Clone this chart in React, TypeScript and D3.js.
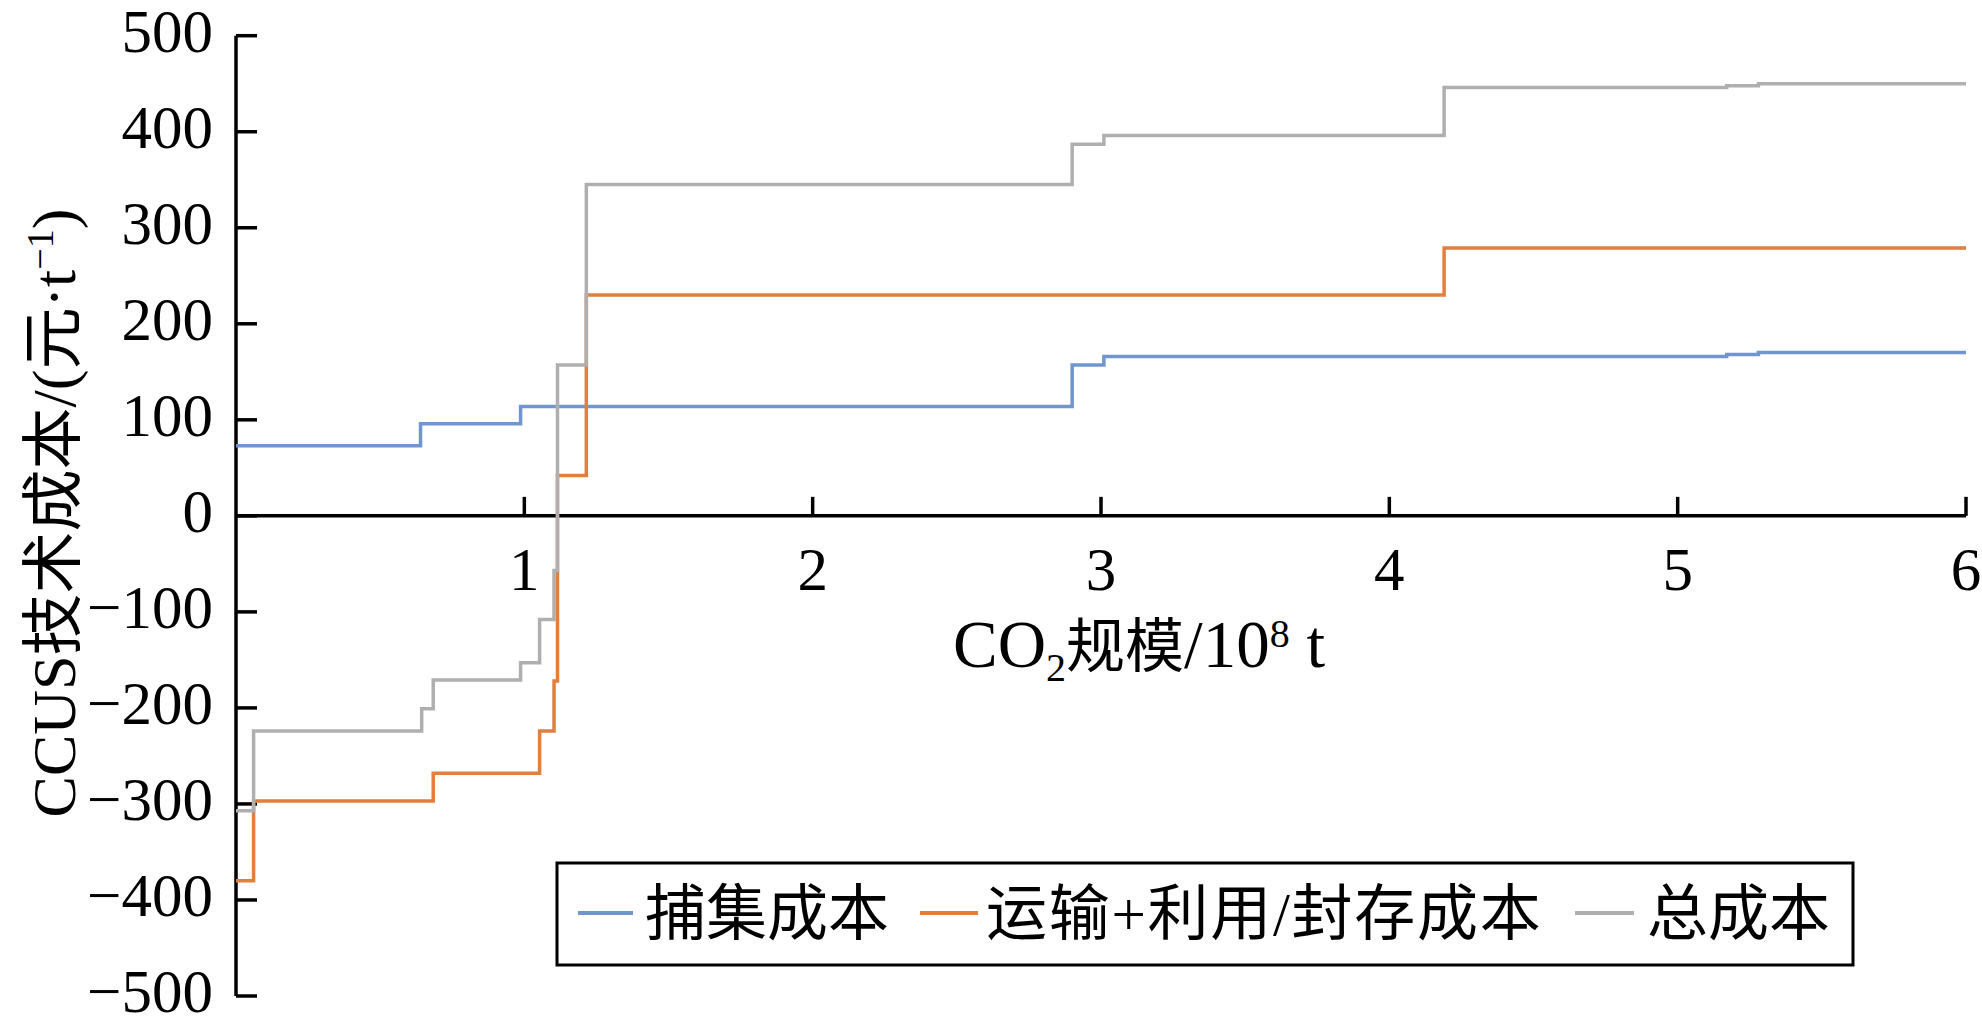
import React from "react";
import * as d3 from "d3";

// ---- Data ----
const captureX = [0, 0.64, 0.987, 2.9, 3.01, 5.17, 5.28, 6];
const captureY = [73, 96, 114, 157, 166, 168, 170, 170];

const transportX = [0, 0.061, 0.684, 1.053, 1.103, 1.115, 1.215, 4.19, 6];
const transportY = [-380, -297, -268, -224, -172, 42, 230, 279, 279];

const totalX = [0, 0.061, 0.644, 0.684, 0.987, 1.053, 1.103, 1.115, 1.215, 2.9, 3.01, 4.19, 5.17, 5.28, 6];
const totalY = [-307, -224, -201, -171, -153, -108, -57, 157, 345, 387, 396, 446, 448, 450, 450];

const seriesNames = ["捕集成本", "运输+利用/封存成本", "总成本"];
const seriesColors = ["#7195CE", "#E07F3E", "#AFAFAF"];

const xTicks = [1, 2, 3, 4, 5, 6];
const yTicks = [-500, -400, -300, -200, -100, 0, 100, 200, 300, 400, 500];

const FONT = "'Liberation Serif','Times New Roman','Noto Sans CJK SC',serif";

export default function App() {
  const W = 1982;
  const H = 1035;
  const x = d3.scaleLinear().domain([0, 6]).range([236, 1966]);
  const y = d3.scaleLinear().domain([-500, 500]).range([996, 35.7]);

  const line = d3
    .line<[number, number]>()
    .x((d) => x(d[0]))
    .y((d) => y(d[1]))
    .curve(d3.curveStepAfter);

  const series = [
    { xs: captureX, ys: captureY },
    { xs: transportX, ys: transportY },
    { xs: totalX, ys: totalY },
  ];

  const fmt = (v: number) => (v < 0 ? "\u2212" + Math.abs(v) : String(v));

  const legendItems = [
    { lx1: 578, lx2: 633, tx: 645, ls: 0 },
    { lx1: 920, lx2: 978, tx: 986, ls: 1.7 },
    { lx1: 1575, lx2: 1634, tx: 1647, ls: 0 },
  ];

  return (
    <svg
      width={W}
      height={H}
      style={{ position: "absolute", left: 0, top: 0, background: "#fff" }}
      fontFamily={FONT}
    >
      <rect x={0} y={0} width={W} height={H} fill="#fff" />
      {/* Axes */}
      <line x1={x(0)} x2={x(6)} y1={y(0)} y2={y(0)} stroke="#000" strokeWidth={3.5} />
      <line x1={x(0)} x2={x(0)} y1={y(-500)} y2={y(500)} stroke="#000" strokeWidth={3.5} />
      {yTicks.map((t) => (
        <g key={"yt" + t}>
          <line x1={x(0)} x2={x(0) + 21} y1={y(t)} y2={y(t)} stroke="#000" strokeWidth={3.5} />
          <text x={213} y={y(t) + 16} textAnchor="end" fontSize={61} fill="#000">
            {fmt(t)}
          </text>
        </g>
      ))}
      {xTicks.map((t) => (
        <g key={"xt" + t}>
          <line x1={x(t)} x2={x(t)} y1={y(0)} y2={y(0) - 19} stroke="#000" strokeWidth={3.5} />
          <text x={x(t)} y={y(0) + 74} textAnchor="middle" fontSize={61} fill="#000">
            {String(t)}
          </text>
        </g>
      ))}

      {/* Lines */}
      {series.map((s, i) => (
        <path
          key={"s" + i}
          d={line(s.xs.map((v, j) => [v, s.ys[j]] as [number, number])) || ""}
          fill="none"
          stroke={seriesColors[i]}
          strokeWidth={3.5}
        />
      ))}

      {/* Axis titles */}
      <text x={953} y={667} fontSize={67} fill="#000" style={{ whiteSpace: "pre" }}>
        <tspan>CO</tspan>
        <tspan fontSize={40} dy={14}>2</tspan>
        <tspan dy={-14} fontSize={59}>规模</tspan>
        <tspan>/10</tspan>
        <tspan fontSize={40} dy={-20}>8</tspan>
        <tspan dy={20}>{" t"}</tspan>
      </text>
      <text
        transform="translate(75,513) rotate(-90)"
        textAnchor="middle"
        fontSize={62}
        fill="#000"
      >
        <tspan>CCUS技术成本/(元·t</tspan>
        <tspan fontSize={38} dy={-22}>{"\u22121"}</tspan>
        <tspan dy={22}>)</tspan>
      </text>

      {/* Legend */}
      <rect x={557} y={863} width={1296} height={102} fill="#fff" stroke="#000" strokeWidth={3} />
      {legendItems.map((it, i) => (
        <g key={"lg" + i}>
          <line x1={it.lx1} x2={it.lx2} y1={913} y2={913} stroke={seriesColors[i]} strokeWidth={4} />
          <text x={it.tx} y={935} fontSize={61} fill="#000" letterSpacing={it.ls}>
            {seriesNames[i]}
          </text>
        </g>
      ))}
    </svg>
  );
}
